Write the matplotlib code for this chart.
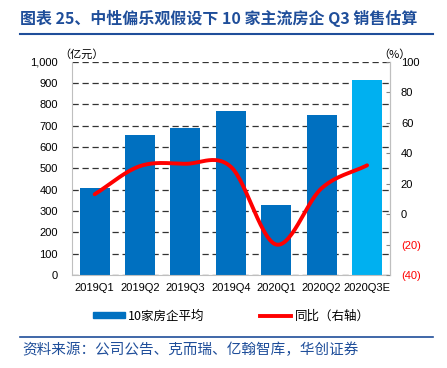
import numpy as np
import matplotlib
matplotlib.use('Agg')
import matplotlib.pyplot as plt
from matplotlib.lines import Line2D
from matplotlib.patches import Patch

plt.rcParams['font.family'] = ['Liberation Sans', 'Noto Sans CJK SC', 'DejaVu Sans']

# dados
quarters = ['2019Q1', '2019Q2', '2019Q3', '2019Q4', '2020Q1', '2020Q2', '2020Q3E']
sales = [409, 655, 691, 767, 328, 750, 914]        # 亿元
yoy = [13, 31.5, 33, 31, -20, 17, 32]               # %
left_ticks = [0, 100, 200, 300, 400, 500, 600, 700, 800, 900, 1000]
right_ticks = [-40, -20, 0, 20, 40, 60, 80, 100]

BLUE = '#0070C0'
LIGHT = '#00B0F0'
RED = '#FF0000'
NAVY = '#1F4E9A'


def suave(xs, ys, n=30):
    # curva suave tipo excel (catmull-rom)
    xs = np.asarray(xs, float)
    ys = np.asarray(ys, float)
    px = np.concatenate([[2 * xs[0] - xs[1]], xs, [2 * xs[-1] - xs[-2]]])
    py = np.concatenate([[2 * ys[0] - ys[1]], ys, [2 * ys[-1] - ys[-2]]])
    ox, oy = [], []
    for i in range(1, len(px) - 2):
        t = np.linspace(0, 1, n)
        for p, out in ((px, ox), (py, oy)):
            p0, p1, p2, p3 = p[i - 1], p[i], p[i + 1], p[i + 2]
            out.extend(0.5 * ((2 * p1) + (-p0 + p2) * t
                              + (2 * p0 - 5 * p1 + 4 * p2 - p3) * t ** 2
                              + (-p0 + 3 * p1 - 3 * p2 + p3) * t ** 3))
    return ox, oy


fig = plt.figure(figsize=(4.47, 3.68), dpi=100)
ax = fig.add_axes([0.161, 0.2527, 0.711, 0.5796])

x = np.arange(len(quarters))
cores = [BLUE] * (len(quarters) - 1) + [LIGHT]
ax.bar(x, sales, width=0.66, color=cores, zorder=2)
ax.set_xlim(-0.5, len(quarters) - 0.5)
ax.set_ylim(0, 1000)
ax.set_yticks(left_ticks)
ax.set_yticklabels([f'{v:,}' for v in left_ticks], fontsize=8)
ax.set_xticks(x)
ax.set_xticklabels(quarters, fontsize=8)
ax.yaxis.grid(True, linestyle=(0, (5, 3)), color='#333333', linewidth=0.9, zorder=0)
ax.tick_params(axis='x', length=0, pad=6)
ax.tick_params(axis='y', length=0, pad=10)
for s in ['left', 'bottom', 'right']:
    ax.spines[s].set_color('#BFBFBF')
ax.spines['top'].set_visible(False)

ax2 = ax.twinx()
lx, ly = suave(x, yoy)
ax2.plot(lx, ly, color=RED, linewidth=2.8, solid_capstyle='round', zorder=3)
ax2.set_ylim(-40, 100)
ax2.set_yticks(right_ticks)
ax2.set_yticklabels([f'({-v})' if v < 0 else str(v) for v in right_ticks], fontsize=8)
for lbl, v in zip(ax2.get_yticklabels(), right_ticks):
    if v < 0:
        lbl.set_color(RED)
ax2.tick_params(axis='y', direction='in', length=3, color='#808080', pad=8)
for s in ['left', 'bottom', 'top']:
    ax2.spines[s].set_visible(False)
ax2.spines['right'].set_color('#BFBFBF')

# unidades
fig.text(0.132, 0.838, '（亿元）', fontsize=8, family=['Noto Sans CJK SC'], ha='left', va='bottom')
fig.text(0.882, 0.838, '（%）', fontsize=8, family=['Noto Sans CJK SC'], ha='center', va='bottom')

# título
fig.text(0.045, 0.95, '图表 25、中性偏乐观假设下 10 家主流房企 Q3 销售估算', fontsize=11.5,
         fontweight='bold', color=NAVY, family=['Noto Sans CJK SC'], ha='left', va='center')
fig.add_artist(Line2D([0.045, 0.968], [0.908, 0.908], color=NAVY, linewidth=1.5))

# legenda
handles = [Patch(color=BLUE), Line2D([0], [0], color=RED, linewidth=2.8)]
fig.legend(handles, ['10家房企平均', '同比（右轴）'], loc='center', bbox_to_anchor=(0.518, 0.141),
           ncol=2, frameon=False, columnspacing=4.4, handlelength=2.5, handleheight=0.4,
           handletextpad=0.3, prop={'family': 'Noto Sans CJK SC', 'size': 9})

# fonte
fig.add_artist(Line2D([0.045, 0.968], [0.083, 0.083], color=NAVY, linewidth=1.2))
fig.text(0.05, 0.049, '资料来源：公司公告、克而瑞、亿翰智库，华创证券', fontsize=10.5, style='italic',
         color=NAVY, family=['Noto Sans CJK SC'], ha='left', va='center')

fig.savefig('out.png', dpi=100)
